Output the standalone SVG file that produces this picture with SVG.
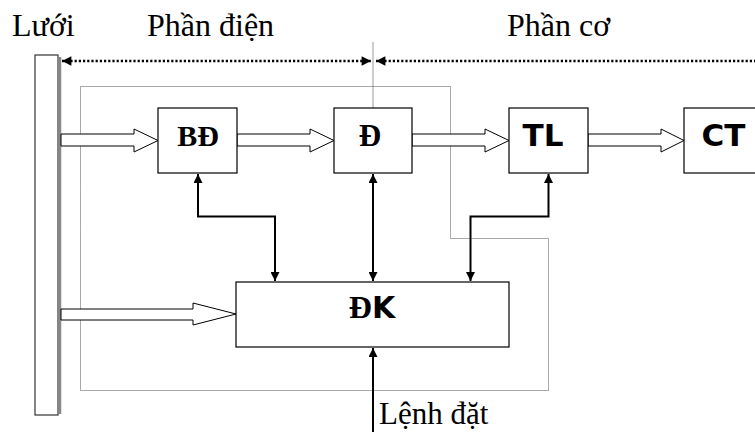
<svg xmlns="http://www.w3.org/2000/svg" width="755" height="432" viewBox="0 0 755 432">
  <style>
    .box { fill: #fff; stroke: #000; stroke-width: 1.2; }
    .serif { font-family: "Liberation Serif", "Times New Roman", serif; fill: #000; }
    .sans { font-family: "DejaVu Sans", Verdana, sans-serif; font-weight: bold; fill: #000; }
    .lbl { font-size: 32px; }
    .blk { fill: #fff; stroke: #000; stroke-width: 1; stroke-linejoin: miter; }
    .ctl { fill: none; stroke: #000; stroke-width: 2; }
    .dots { fill: none; stroke: #000; stroke-width: 2.6; stroke-dasharray: 2.2 2; }
    .zone { fill: none; stroke: #555; stroke-width: 1; stroke-dasharray: 1 1; }
  </style>
  <defs>
    <marker id="ah" viewBox="0 0 10 10" refX="10" refY="5" markerWidth="5" markerHeight="4.5" orient="auto-start-reverse" markerUnits="strokeWidth">
      <path d="M0,0 L10,5 L0,10 Z" fill="#000"/>
    </marker>
    <marker id="dh" viewBox="0 0 10 10" refX="10" refY="5" markerWidth="4" markerHeight="3.6" orient="auto-start-reverse" markerUnits="strokeWidth">
      <path d="M0,0 L10,5 L0,10 Z" fill="#000"/>
    </marker>
  </defs>

  <!-- section titles -->
  <text class="serif lbl" x="12" y="36">Lưới</text>
  <text class="serif lbl" x="147" y="36">Phần điện</text>
  <text class="serif lbl" x="507" y="36">Phần cơ</text>

  <!-- boundary between electrical and mechanical parts -->
  <line x1="373" y1="42" x2="373" y2="108" stroke="#bbb" stroke-width="1.5"/>
  <path class="dots" d="M62,61 H371" marker-start="url(#dh)" marker-end="url(#dh)"/>
  <path class="dots" d="M376,61 H760" marker-start="url(#dh)"/>

  <!-- electrical part enclosure -->
  <path class="zone" d="M80.5,86.5 H450.5 V238.5 H548.5 V390.5 H80.5 Z"/>

  <!-- grid bus -->
  <g id="luoi">
    <rect x="35" y="55" width="23" height="360" fill="#fff" stroke="#333" stroke-width="1.2"/>
    <line x1="60" y1="57" x2="60" y2="414" stroke="#888" stroke-width="2.5"/>
  </g>

  <g id="connectors">
    <!-- power flow -->
    <polygon class="blk" points="61,134 134,134 134,129 158,140.5 134,152 134,146 61,146"/>
    <polygon class="blk" points="237,134 310,134 310,129 334,140.5 310,152 310,146 237,146"/>
    <polygon class="blk" points="412,134 485,134 485,129 509,140.5 485,152 485,146 412,146"/>
    <polygon class="blk" points="588,134 661,134 661,129 684,140.5 661,152 661,146 588,146"/>
    <polygon class="blk" points="61,309 193,309 193,303 236,314 193,325 193,320 61,320"/>
    <!-- control signals -->
    <path class="ctl" d="M198,174 V216.5 H275 V281" marker-start="url(#ah)" marker-end="url(#ah)"/>
    <path class="ctl" d="M373,174 V281" marker-start="url(#ah)" marker-end="url(#ah)"/>
    <path class="ctl" d="M548.5,174 V216.5 H470.5 V281" marker-start="url(#ah)" marker-end="url(#ah)"/>
    <path class="ctl" d="M373,432 V348" marker-end="url(#ah)"/>
  </g>

  <g id="bd">
    <rect class="box" x="158" y="108" width="79" height="65"/>
    <text class="serif" x="198" y="146" font-size="30" font-weight="bold" text-anchor="middle">BĐ</text>
  </g>
  <g id="d">
    <rect class="box" x="334" y="108" width="78" height="65"/>
    <text class="serif" x="370" y="146" font-size="31" font-weight="bold" text-anchor="middle">Đ</text>
  </g>
  <g id="tl">
    <rect class="box" x="509" y="108" width="79" height="65"/>
    <text class="sans" x="543" y="146" font-size="31" text-anchor="middle">TL</text>
  </g>
  <g id="ct">
    <rect class="box" x="684" y="108" width="80" height="65"/>
    <text class="sans" x="723.5" y="146" font-size="31" text-anchor="middle">CT</text>
  </g>
  <g id="dk">
    <rect class="box" x="236" y="282" width="273" height="65"/>
    <text x="372" y="318" text-anchor="middle"><tspan class="serif" font-size="32" font-weight="bold">Đ</tspan><tspan class="sans" font-size="30">K</tspan></text>
  </g>

  <text class="serif" x="379" y="424" font-size="31">Lệnh đặt</text>
</svg>
